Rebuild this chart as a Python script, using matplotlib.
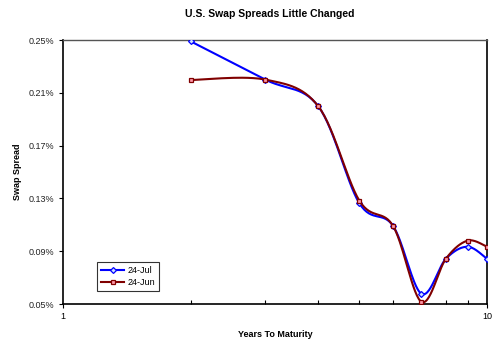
import numpy as np
import matplotlib
matplotlib.use("Agg")
import matplotlib.pyplot as plt
from matplotlib.ticker import FixedLocator, FuncFormatter, NullFormatter

plt.rcParams['font.family'] = ['Liberation Sans', 'DejaVu Sans']

maturity = [2, 3, 4, 5, 6, 7, 8, 9, 10]
jul_24 = [0.249, 0.220, 0.1998, 0.1263, 0.1093, 0.0578, 0.0843, 0.0934, 0.0843]
jun_24 = [0.2197, 0.220, 0.1998, 0.1283, 0.1093, 0.0517, 0.0843, 0.0980, 0.0934]
y_ticks = [0.05, 0.09, 0.13, 0.17, 0.21, 0.25]

X_MIN, X_MAX = 1, 10
Y_MIN, Y_MAX = 0.05, 0.25
W_PX, H_PX = 424, 264


def smooth(xs, ys, n=30):
    # spreadsheet-style smoothed line: bezier segments with
    # catmull-rom handles, worked out in screen units
    u = np.log10(np.asarray(xs, float)) / np.log10(X_MAX) * W_PX
    v = (np.asarray(ys, float) - Y_MIN) / (Y_MAX - Y_MIN) * H_PX
    pts = np.column_stack([u, v])
    padded = np.vstack([pts[0], pts, pts[-1]])
    out = [pts[0]]
    t = np.linspace(0, 1, n + 1)[1:, None]
    for i in range(len(pts) - 1):
        p0, p3 = padded[i + 1], padded[i + 2]
        p1 = p0 + (padded[i + 2] - padded[i]) / 6
        p2 = p3 - (padded[i + 3] - padded[i + 1]) / 6
        seg = ((1 - t) ** 3) * p0 + 3 * ((1 - t) ** 2) * t * p1 \
            + 3 * (1 - t) * t ** 2 * p2 + t ** 3 * p3
        out.extend(seg)
    out = np.array(out)
    sx = 10 ** (out[:, 0] / W_PX * np.log10(X_MAX))
    sy = out[:, 1] / H_PX * (Y_MAX - Y_MIN) + Y_MIN
    marks = [i * n for i in range(len(pts))]
    return sx, sy, marks


fig = plt.figure(figsize=(4.93, 3.39), dpi=100)
ax = fig.add_axes([63 / 493, 1 - 304 / 339, 424 / 493, 264 / 339])

sx, sy, mk = smooth(maturity, jul_24)
ax.plot(sx, sy, color='#0000FF', lw=1.5, marker='D', markevery=mk,
        markersize=3, markerfacecolor='#CCE0FF', markeredgecolor='#0000FF',
        markeredgewidth=0.9, label='24-Jul', zorder=3)

sx, sy, mk = smooth(maturity, jun_24)
ax.plot(sx, sy, color='#800000', lw=1.5, marker='s', markevery=mk,
        markersize=3.5, markerfacecolor='#FF99AA', markeredgecolor='#800000',
        markeredgewidth=0.9, label='24-Jun', zorder=4)

ax.set_xscale('log')
ax.set_xlim(X_MIN, X_MAX)
ax.set_ylim(Y_MIN, Y_MAX)

ax.xaxis.set_major_locator(FixedLocator([1, 10]))
ax.xaxis.set_major_formatter(FuncFormatter(lambda v, p: f"{v:g}"))
ax.xaxis.set_minor_locator(FixedLocator(maturity[:-1]))
ax.xaxis.set_minor_formatter(NullFormatter())
ax.set_yticks(y_ticks)
ax.yaxis.set_major_formatter(FuncFormatter(lambda v, p: f"{v:.2f}%"))

ax.tick_params(axis='both', which='major', direction='out', length=3,
               width=0.8, labelsize=6.5, pad=3, colors='black')
ax.tick_params(axis='x', which='minor', direction='in', length=3, width=0.8)
ax.tick_params(axis='y', labelcolor='#222222')

for side in ['left', 'bottom', 'right']:
    ax.spines[side].set_color('black')
    ax.spines[side].set_linewidth(1.2)
ax.spines['top'].set_color('#555555')
ax.spines['top'].set_linewidth(1.0)

ax.set_xlabel('Years To Maturity', fontsize=6.5, fontweight='bold', labelpad=6)
ax.set_ylabel('Swap Spread', fontsize=6.5, fontweight='bold', labelpad=5)
fig.text(0.548, 0.958, 'U.S. Swap Spreads Little Changed', fontsize=7.5,
         fontweight='bold', ha='center', va='center')

leg = ax.legend(loc='lower left', bbox_to_anchor=(0.08, 0.05), fontsize=6.5,
                frameon=True, fancybox=False, edgecolor='black',
                handlelength=2.6, handletextpad=0.3, borderpad=0.45,
                labelspacing=0.3, borderaxespad=0)
leg.get_frame().set_linewidth(0.8)

fig.savefig('out.png', dpi=100)
